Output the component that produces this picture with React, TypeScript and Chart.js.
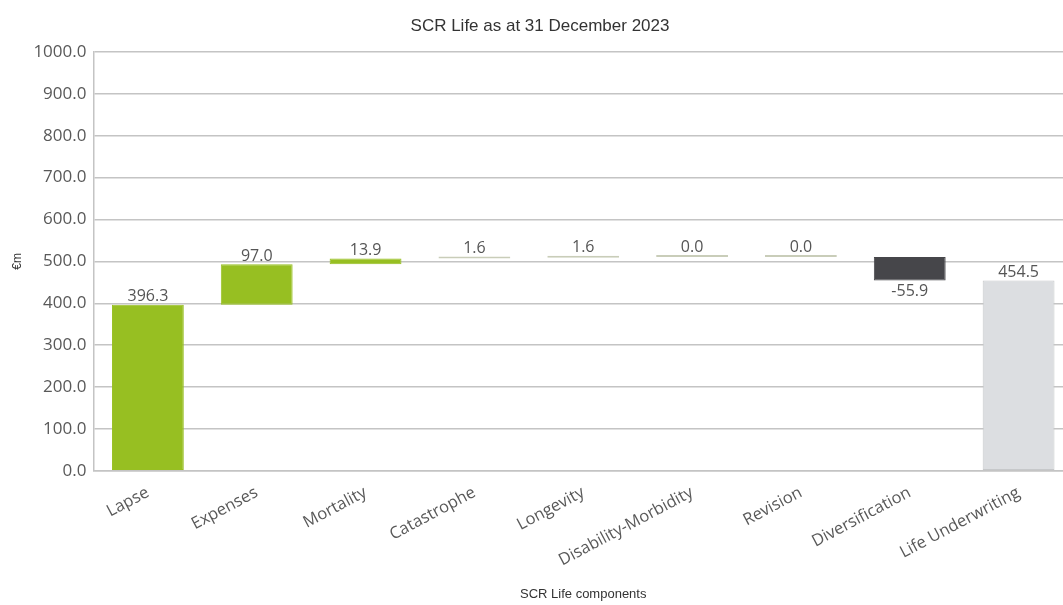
import React, { useEffect, useRef } from "react";
import { Chart, registerables } from "chart.js";

Chart.register(...registerables);

// SCR Life components (€m) and the resulting total
const categories = [
  "Lapse",
  "Expenses",
  "Mortality",
  "Catastrophe",
  "Longevity",
  "Disability-Morbidity",
  "Revision",
  "Diversification",
  "Life Underwriting",
];
const componentValues = [396.3, 97.0, 13.9, 1.6, 1.6, 0.0, 0.0, -55.9];
const totalValue = 454.5;
const yTicks = [0, 100, 200, 300, 400, 500, 600, 700, 800, 900, 1000];

const GREEN = "#97bf22";
const PALE = "#c9cdb9";
const DARK = "#46464a";
const TOTAL_FILL = "#dcdee1";

const tickFont = '"Open Sans", "Noto Sans", sans-serif';
const plainFont = '"Liberation Sans", Arial, sans-serif';
const chartTitle = "SCR Life as at 31 December 2023";

export default function App() {
  const canvasRef = useRef<HTMLCanvasElement | null>(null);

  useEffect(() => {
    if (!canvasRef.current) return;

    // floating ranges for the waterfall steps
    const ranges: [number, number][] = [];
    const labelValues: number[] = [];
    let running = 0;
    componentValues.forEach((v) => {
      const start = running;
      running = +(running + v).toFixed(1);
      ranges.push([start, running]);
      labelValues.push(v);
    });
    ranges.push([0, totalValue]);
    labelValues.push(totalValue);

    const colors = labelValues.map((v, i) => {
      if (i === labelValues.length - 1) return TOTAL_FILL;
      if (v < 0) return DARK;
      if (v >= 10) return GREEN;
      return PALE;
    });
    const borders = colors.map((c) => (c === TOTAL_FILL ? "#c6c8ca" : c));

    const valueLabels = {
      id: "valueLabels",
      afterDatasetsDraw(chart: any) {
        const ctx = chart.ctx;
        const meta = chart.getDatasetMeta(0);
        ctx.save();
        ctx.font = `16px ${tickFont}`;
        ctx.fillStyle = "#555555";
        ctx.textAlign = "center";
        meta.data.forEach((bar: any, i: number) => {
          const v = labelValues[i];
          const top = Math.min(bar.y, bar.base);
          const bottom = Math.max(bar.y, bar.base);
          const text = v.toFixed(1);
          if (v < 0) {
            ctx.textBaseline = "top";
            ctx.fillText(text, bar.x, bottom + 3);
          } else {
            ctx.textBaseline = "bottom";
            ctx.fillText(text, bar.x, top);
          }
        });
        ctx.restore();
      },
    };

    // heading, centred on the page width
    const heading = {
      id: "heading",
      afterDraw(chart: any) {
        const ctx = chart.ctx;
        ctx.save();
        ctx.font = `17px ${plainFont}`;
        ctx.fillStyle = "#333333";
        ctx.textAlign = "center";
        ctx.textBaseline = "middle";
        ctx.fillText(chartTitle, 540, 26);
        ctx.restore();
      },
    };

    const chart = new Chart(canvasRef.current, {
      type: "bar",
      data: {
        labels: categories,
        datasets: [
          {
            data: ranges as any,
            backgroundColor: colors,
            borderColor: borders,
            borderWidth: 1,
            borderSkipped: false,
            minBarLength: 2,
            barPercentage: 0.66,
            categoryPercentage: 1,
          },
        ],
      },
      options: {
        responsive: false,
        animation: false,
        layout: { padding: { left: 10, right: 0, top: 52, bottom: 0 } },
        plugins: {
          legend: { display: false },
          tooltip: { enabled: false },
          title: { display: false },
        },
        scales: {
          x: {
            grid: { display: false, drawTicks: false },
            border: { color: "#c4c4c4", width: 1.5 },
            ticks: {
              color: "#595959",
              font: { family: tickFont, size: 16.5 },
              minRotation: 28,
              maxRotation: 28,
              padding: 12,
              autoSkip: false,
            },
            title: {
              display: true,
              text: "SCR Life components",
              color: "#333333",
              font: { family: plainFont, size: 13 },
              padding: { top: 4, bottom: 3 },
            },
          },
          y: {
            min: 0,
            max: 1000,
            afterBuildTicks(scale: any) {
              scale.ticks = yTicks.map((v) => ({ value: v }));
            },
            grid: { color: "#c4c4c4", lineWidth: 1.5, drawTicks: false },
            border: { color: "#c4c4c4", width: 1.5 },
            ticks: {
              color: "#595959",
              font: { family: tickFont, size: 17 },
              padding: 7,
              callback: (v: any) => Number(v).toFixed(1),
            },
            title: {
              display: true,
              text: "€m",
              color: "#333333",
              font: { family: plainFont, size: 12 },
              padding: { top: 0, bottom: 2 },
            },
          },
        },
      },
      plugins: [valueLabels, heading],
    });

    return () => chart.destroy();
  }, []);

  return (
    <div
      style={{
        position: "absolute",
        left: 0,
        top: 0,
        width: 1063,
        height: 605,
        overflow: "hidden",
        background: "#ffffff",
      }}
    >
      <canvas ref={canvasRef} width={1073} height={605} />
    </div>
  );
}
